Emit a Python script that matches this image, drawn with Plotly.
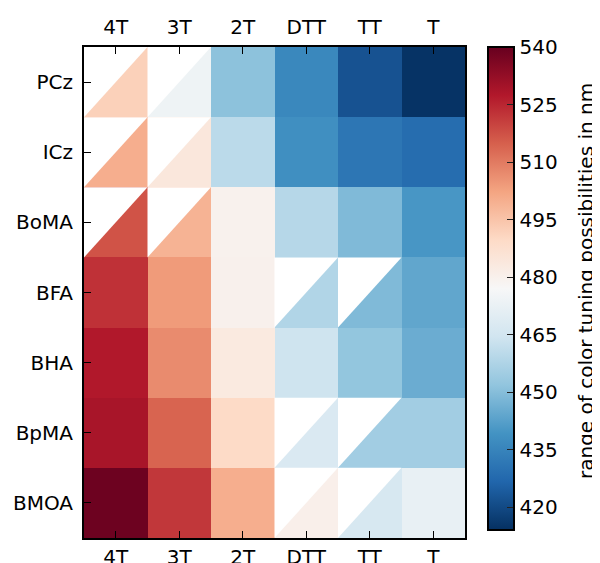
import plotly.graph_objects as go
import plotly.colors as pc

rows = ["PCz", "ICz", "BoMA", "BFA", "BHA", "BpMA", "BMOA"]
cols = ["4T", "3T", "2T", "DTT", "TT", "T"]

# lower-right triangle values (nm)
lower_vals = [
    [492, 474, 451, 436, 422, 414.6],
    [500, 484, 460, 438, 431, 428.5],
    [517, 499, 479.5, 459, 449, 440],
    [523, 504, 480, 458, 449, 444],
    [527.5, 507, 483, 464, 452, 445.5],
    [529, 514, 489.5, 467.5, 455, 455],
    [539, 522, 500, 480.5, 466.5, 472],
]
# upper-left triangle values (nm); None = no value
upper_vals = [
    [None, None, 451, 436, 422, 414.6],
    [None, None, 460, 438, 431, 428.5],
    [None, None, 479.5, 459, 449, 440],
    [523, 504, 480, None, None, 444],
    [527.5, 507, 483, 464, 452, 445.5],
    [529, 514, 489.5, None, None, 455],
    [539, 522, 500, None, None, 472],
]
cbar_ticks = [420, 435, 450, 465, 480, 495, 510, 525, 540]
cbar_title = "range of color tuning possibilities in nm"

ZMIN, ZMAX = 414, 540
base = pc.diverging.RdBu_r
n = len(base)
cscale = [[i / (n - 1), c] for i, c in enumerate(base)]

FONT = "DejaVu Sans"
FS = 20

# page body offset compensation (browser default body margin)
OFF = 8
W, H = 600 - OFF, 563 - OFF
ML, MT, PW, PH = 84 - OFF, 47 - OFF, 381, 491
MR = W - ML - PW
MB = H - MT - PH

fig = go.Figure()
fig.add_trace(go.Heatmap(
    z=lower_vals, x=list(range(len(cols))), y=list(range(len(rows))),
    zmin=ZMIN, zmax=ZMAX, colorscale=cscale,
    colorbar=dict(
        x=(488 - 84) / PW, xanchor="left", xref="paper", xpad=0,
        y=1, yanchor="top", yref="paper", ypad=0,
        len=483, lenmode="pixels", thickness=26, thicknessmode="pixels",
        outlinewidth=2, outlinecolor="black",
        tickvals=cbar_ticks, ticks="inside", ticklen=8, tickcolor="#222",
        tickwidth=1.2,
        tickfont=dict(family=FONT, size=FS, color="black"),
    ),
    hoverinfo="skip",
))

for r in range(len(rows)):
    for c in range(len(cols)):
        u = upper_vals[r][c]
        if u is not None and u == lower_vals[r][c]:
            continue
        if u is None:
            col = "white"
        else:
            col = pc.sample_colorscale(cscale, [(u - ZMIN) / (ZMAX - ZMIN)])[0]
        fig.add_trace(go.Scatter(
            x=[c - 0.5, c + 0.5, c - 0.5, c - 0.5],
            y=[r - 0.5, r - 0.5, r + 0.5, r - 0.5],
            mode="lines", fill="toself", fillcolor=col,
            line=dict(width=0, color=col), hoverinfo="skip", showlegend=False,
        ))

# invisible trace for top axis
fig.add_trace(go.Scatter(x=[0], y=[0], xaxis="x2", mode="markers",
                         marker=dict(opacity=0), showlegend=False, hoverinfo="skip"))

axis_common = dict(showline=True, linecolor="black", linewidth=2, mirror=True,
                   ticks="inside", ticklen=7, tickcolor="black", tickwidth=1.2,
                   showgrid=False, zeroline=False, automargin=False,
                   tickfont=dict(family=FONT, size=FS, color="black"))

fig.update_layout(
    width=W, height=H,
    margin=dict(l=ML, r=MR, t=MT, b=MB, pad=0),
    paper_bgcolor="white", plot_bgcolor="white",
    xaxis=dict(range=[-0.5, len(cols) - 0.5], tickvals=list(range(len(cols))),
               ticktext=cols, ticklabelstandoff=0, **axis_common),
    xaxis2=dict(range=[-0.5, len(cols) - 0.5], tickvals=list(range(len(cols))),
                ticktext=cols, overlaying="x", side="top", ticklabelstandoff=3,
                **axis_common),
    yaxis=dict(range=[len(rows) - 0.5, -0.5], tickvals=list(range(len(rows))),
               ticktext=rows, ticklabelstandoff=5, **axis_common),
    annotations=[dict(
        text=cbar_title, textangle=-90, xref="paper", yref="paper",
        x=(586 - 84) / PW, y=1 - (281 - 47) / PH,
        xanchor="center", yanchor="middle", showarrow=False,
        font=dict(family=FONT, size=FS, color="black"),
    )],
)

fig.write_html("out.html")
